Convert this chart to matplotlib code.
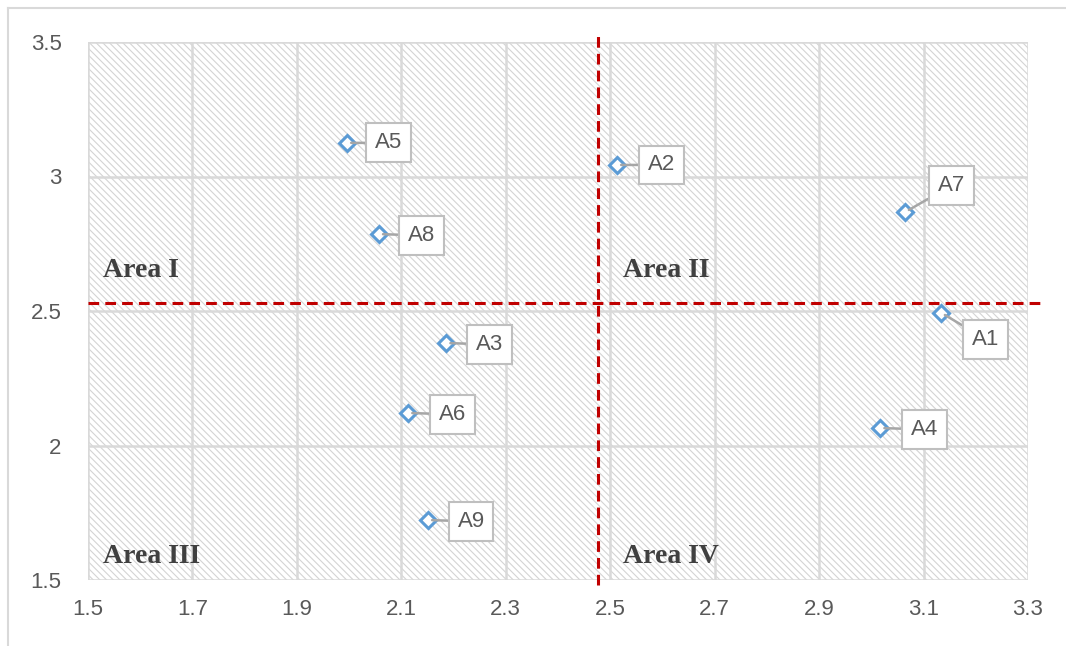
import matplotlib.pyplot as plt
from matplotlib.patches import Rectangle
from matplotlib.lines import Line2D

# 数据
names = ['A1', 'A2', 'A3', 'A4', 'A5', 'A6', 'A7', 'A8', 'A9']
x_vals = [3.134, 2.513, 2.186, 3.017, 1.996, 2.113, 3.065, 2.057, 2.151]
y_vals = [2.493, 3.043, 2.381, 2.065, 3.125, 2.121, 2.868, 2.786, 1.723]
# 标签偏移 (points)
label_dx = [32, 32, 31, 32, 30, 32, 33, 31, 31]
label_dy = [-19, 0, -1, -1, 0, -1, 19, -1, -1]

x_split = 2.477
y_split = 2.53
area_names = ['Area I', 'Area II', 'Area III', 'Area IV']
area_x = [1.529, 2.525, 1.529, 2.525]
area_y = [2.649, 2.649, 1.586, 1.586]

x_ticks = [1.5, 1.7, 1.9, 2.1, 2.3, 2.5, 2.7, 2.9, 3.1, 3.3]
y_ticks = [1.5, 2.0, 2.5, 3.0, 3.5]
y_ticklabels = ['1.5', '2', '2.5', '3', '3.5']

plt.rcParams['font.family'] = ['Liberation Sans', 'DejaVu Sans']
plt.rcParams['hatch.color'] = '#d4d4d4'
plt.rcParams['hatch.linewidth'] = 0.8

fig = plt.figure(figsize=(10.66, 6.46), dpi=100)
ax = fig.add_axes([88 / 1066, 1 - 580 / 646, 940 / 1066, 538 / 646])

# 外框 (上、左)
fig.add_artist(Line2D([8 / 1066, 8 / 1066], [0, 1 - 8 / 646], color='#d9d9d9', lw=1.5))
fig.add_artist(Line2D([8 / 1066, 1], [1 - 8 / 646, 1 - 8 / 646], color='#d9d9d9', lw=1.5))

# 斜线填充背景
ax.add_patch(Rectangle((0, 0), 1, 1, transform=ax.transAxes, facecolor='white',
                       edgecolor='#d4d4d4', hatch='\\\\\\\\\\', lw=0, zorder=0))

ax.set_xlim(1.5, 3.3)
ax.set_ylim(1.5, 3.5)
ax.set_xticks(x_ticks)
ax.set_xticklabels([f'{v:.1f}' for v in x_ticks])
ax.set_yticks(y_ticks)
ax.set_yticklabels(y_ticklabels)
ax.grid(True, color='#d9d9d9', lw=1.8, zorder=1)
ax.set_axisbelow(True)
for s in ax.spines.values():
    s.set_visible(False)
ax.tick_params(length=0, labelsize=16, labelcolor='#595959', pad=14)
ax.tick_params(axis='y', pad=19)

# 分区虚线
ax.plot([x_split, x_split], [1.481, 3.526], color='#c00000', lw=2.2,
        dashes=(3.5, 2), clip_on=False, zorder=3)
ax.plot([1.5, 3.333], [y_split, y_split], color='#c00000', lw=2.2,
        dashes=(3.5, 2), clip_on=False, zorder=3)

# 散点
ax.plot(x_vals, y_vals, linestyle='none', marker='D', ms=8, mfc='white',
        mec='#5b9bd5', mew=2.2, zorder=5)

for n, x, y, dx, dy in zip(names, x_vals, y_vals, label_dx, label_dy):
    ax.annotate(n, (x, y), xytext=(dx, dy), textcoords='offset points',
                ha='center', va='center', fontsize=16, color='#595959', zorder=6,
                bbox=dict(boxstyle='square,pad=0.4', fc='white', ec='#bfbfbf', lw=1.5),
                arrowprops=dict(arrowstyle='-', color='#a6a6a6', lw=1.8,
                                shrinkA=0, shrinkB=3))

for n, x, y in zip(area_names, area_x, area_y):
    ax.text(x, y, n, ha='left', va='center', fontsize=20, fontweight='bold',
            family='Liberation Serif', color='#404040', zorder=4)

plt.savefig('out.png', dpi=100)
